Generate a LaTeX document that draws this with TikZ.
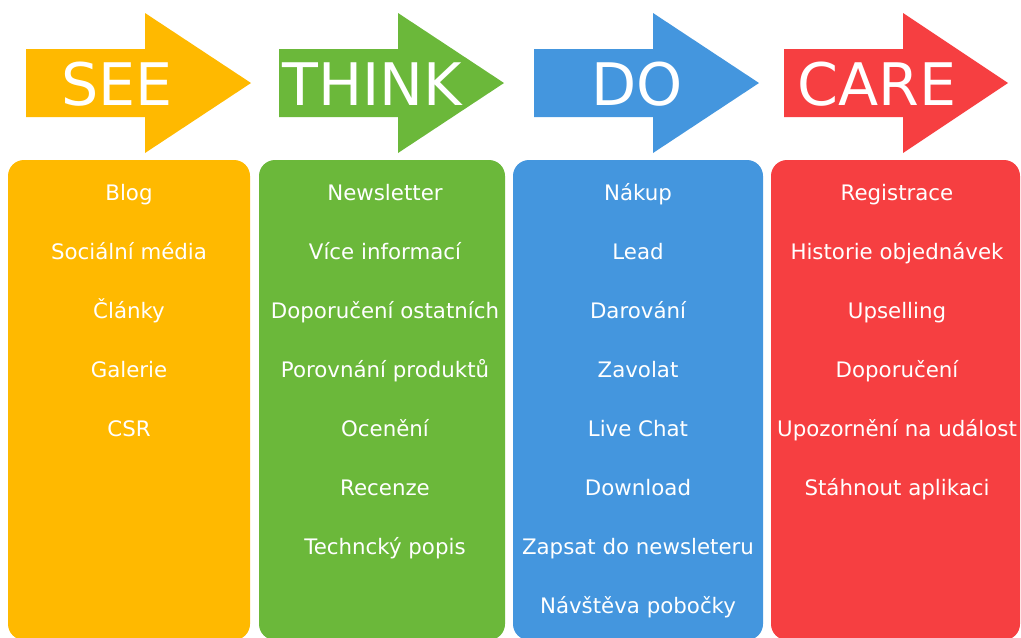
\documentclass[tikz,border=0pt]{standalone}
\usepackage{fontspec}
\setmainfont{DejaVu Sans}
\usepackage{tikz}
\usetikzlibrary{positioning}
\definecolor{seeorange}{HTML}{FFB900}
\definecolor{thinkgreen}{HTML}{6BB83A}
\definecolor{doblue}{HTML}{4496DE}
\definecolor{carered}{HTML}{F63F41}
\tikzset{
  stagebox/.style={rounded corners=12},
  headword/.style={text=white, anchor=base, inner sep=0pt, font=\fontsize{44}{50}\selectfont},
  item/.style={text=white, anchor=base, inner sep=0pt, font=\fontsize{16}{19}\selectfont}
}

\begin{document}
\begin{tikzpicture}[x=0.75pt, y=-0.75pt]
\useasboundingbox (0,0) rectangle (1021,637);
% arrows
\fill[seeorange]   (26,49) -- (145,49) -- (145,13) -- (251,83) -- (145,153) -- (145,117) -- (26,117) -- cycle;
\fill[thinkgreen]  (279,49) -- (398,49) -- (398,13) -- (504,83) -- (398,153) -- (398,117) -- (279,117) -- cycle;
\fill[doblue]      (534,49) -- (653,49) -- (653,13) -- (759,83) -- (653,153) -- (653,117) -- (534,117) -- cycle;
\fill[carered]     (784,49) -- (903,49) -- (903,13) -- (1008,83) -- (903,153) -- (903,117) -- (784,117) -- cycle;
\node[headword] (see)   at (117,105) {SEE};
\node[headword] (think) at (372,105) {THINK};
\node[headword] (do)    at (637,105) {DO};
\node[headword] (care)  at (877,105) {CARE};
% columns
\fill[seeorange, stagebox]  (8,160) rectangle (250,640);
\fill[thinkgreen, stagebox] (259,160) rectangle (505,640);
\fill[doblue, stagebox]     (513,160) rectangle (763,640);
\fill[carered, stagebox]    (771,160) rectangle (1020,640);
\foreach \t [count=\i] in {Blog, Sociální média, Články, Galerie, CSR}
  \node[item] (see\i) at (129,141+59*\i) {\t};
\foreach \t [count=\i] in {Newsletter, Více informací, Doporučení ostatních, Porovnání produktů, Ocenění, Recenze, Techncký popis}
  \node[item] (think\i) at (385,141+59*\i) {\t};
\foreach \t [count=\i] in {Nákup, Lead, Darování, Zavolat, Live Chat, Download, Zapsat do newsleteru, Návštěva pobočky}
  \node[item] (do\i) at (638,141+59*\i) {\t};
\foreach \t [count=\i] in {Registrace, Historie objednávek, Upselling, Doporučení, Upozornění na událost, Stáhnout aplikaci}
  \node[item] (care\i) at (897,141+59*\i) {\t};
\end{tikzpicture}
\end{document}
